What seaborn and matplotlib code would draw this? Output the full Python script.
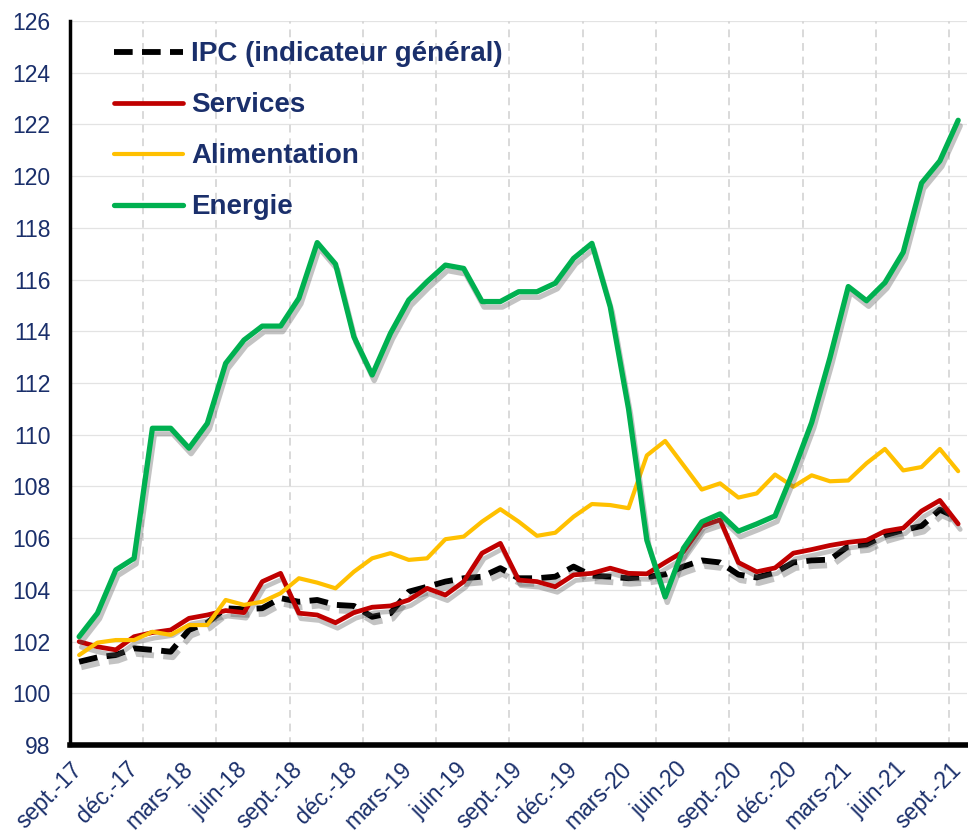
import matplotlib
matplotlib.use("Agg")
import matplotlib.pyplot as plt
import matplotlib.patheffects as pe
import numpy as np
import pandas as pd
import seaborn as sns

# monthly index values, sept. 2017 -> sept. 2021
ipc = [101.22, 101.39, 101.48, 101.74, 101.68, 101.61, 102.45, 102.73, 103.29, 103.25,
       103.29, 103.68, 103.54, 103.61, 103.42, 103.38, 102.96, 103.1, 103.93, 104.12,
       104.32, 104.45, 104.51, 104.84, 104.45, 104.45, 104.51, 104.9, 104.55, 104.51,
       104.45, 104.5, 104.6, 104.9, 105.14, 105.06, 104.59, 104.48, 104.67, 105.06,
       105.14, 105.17, 105.69, 105.76, 106.11, 106.31, 106.47, 107.1, 106.78]
services = [102.0, 101.8, 101.68, 102.19, 102.35, 102.45, 102.9, 103.03, 103.2, 103.12,
            104.32, 104.64, 103.1, 103.03, 102.73, 103.12, 103.33, 103.38, 103.61, 104.06,
            103.8, 104.32, 105.42, 105.8, 104.38, 104.32, 104.12, 104.58, 104.64, 104.84,
            104.64, 104.62, 105.06, 105.48, 106.47, 106.71, 105.06, 104.7, 104.85, 105.42,
            105.56, 105.72, 105.84, 105.92, 106.27, 106.39, 107.05, 107.46, 106.55]
alimentation = [101.48, 101.96, 102.06, 102.06, 102.38, 102.26, 102.64, 102.64, 103.61, 103.42,
                103.54, 103.87, 104.45, 104.28, 104.06, 104.7, 105.22, 105.42, 105.16, 105.22,
                105.96, 106.06, 106.64, 107.12, 106.64, 106.09, 106.21, 106.83, 107.32, 107.28,
                107.16, 109.2, 109.76, 108.82, 107.88, 108.12, 107.57, 107.73, 108.46, 107.99,
                108.43, 108.2, 108.23, 108.9, 109.45, 108.62, 108.75, 109.45, 108.59]
energie = [102.19, 103.1, 104.77, 105.22, 110.25, 110.25, 109.48, 110.44, 112.76, 113.66,
           114.2, 114.2, 115.28, 117.43, 116.6, 113.79, 112.31, 113.92, 115.21, 115.92,
           116.56, 116.43, 115.15, 115.15, 115.53, 115.53, 115.86, 116.82, 117.4, 114.95,
           111.0, 105.92, 103.73, 105.61, 106.63, 106.94, 106.27, 106.55, 106.86, 108.59,
           110.47, 112.98, 115.73, 115.18, 115.88, 117.06, 119.73, 120.59, 122.16]

tick_labels = ["sept.-17", "déc.-17", "mars-18", "juin-18", "sept.-18", "déc.-18",
               "mars-19", "juin-19", "sept.-19", "déc.-19", "mars-20", "juin-20",
               "sept.-20", "déc.-20", "mars-21", "juin-21", "sept.-21"]

navy = "#1a2f6b"

sns.set_style("white")
plt.rcParams["font.family"] = ["Liberation Sans", "DejaVu Sans"]

df = pd.DataFrame({"mois": np.arange(len(ipc)), "IPC (indicateur général)": ipc,
                   "Services": services, "Alimentation": alimentation, "Energie": energie})

fig = plt.figure(figsize=(9.68, 8.33), dpi=100)
ax = fig.add_axes([0.0723, 0.1056, 0.927, 0.8692])

shadow = [pe.SimpleLineShadow(offset=(1.5, -4), shadow_color="#555555", alpha=0.35), pe.Normal()]

sns.lineplot(data=df, x="mois", y="IPC (indicateur général)", ax=ax, color="black", lw=4.2,
             linestyle=(0, (3.2, 1.6)), label="IPC (indicateur général)", path_effects=shadow)
sns.lineplot(data=df, x="mois", y="Services", ax=ax, color="#c00000", lw=3.4,
             label="Services", path_effects=shadow)
sns.lineplot(data=df, x="mois", y="Alimentation", ax=ax, color="#ffc000", lw=3.0,
             label="Alimentation")
sns.lineplot(data=df, x="mois", y="Energie", ax=ax, color="#00b050", lw=3.8,
             label="Energie", path_effects=shadow)

ax.set_xlim(-0.5, len(ipc) - 0.5)
ax.set_ylim(98, 126)
ax.set_yticks(np.arange(98, 127, 2))
ax.set_xticks(np.arange(0, len(ipc), 3))
ax.set_xticklabels(tick_labels, rotation=45, ha="right", va="center", rotation_mode="anchor")
ax.set_xlabel("")
ax.set_ylabel("")

# grid: horizontal thin, vertical dashed every 4 months at category edges
for y in np.arange(100, 127, 2):
    ax.axhline(y, color="#e3e3e3", lw=0.9, zorder=0)
for x in np.arange(3.5, len(ipc) - 0.5, 4):
    ax.axvline(x, color="#d9d9d9", lw=1.4, ls=(0, (4, 3)), zorder=0)

for s in ["top", "right"]:
    ax.spines[s].set_visible(False)
ax.spines["left"].set_linewidth(2.5)
ax.spines["bottom"].set_linewidth(4)
ax.spines["left"].set_color("black")
ax.spines["bottom"].set_color("black")

ax.tick_params(axis="y", length=5, width=2, color="black", labelsize=16.5, labelcolor=navy, pad=9)
ax.tick_params(axis="x", length=0, labelsize=16.5, labelcolor=navy, pad=15)

leg = ax.legend(loc="upper left", bbox_to_anchor=(0.03, 0.995), frameon=False,
                handlelength=2.5, labelspacing=0.9, handletextpad=0.3, borderaxespad=0.2,
                prop={"size": 20, "weight": "bold"})
for t in leg.get_texts():
    t.set_color(navy)
for h in leg.get_lines():
    h.set_path_effects([])

fig.savefig("out.png", dpi=100)
